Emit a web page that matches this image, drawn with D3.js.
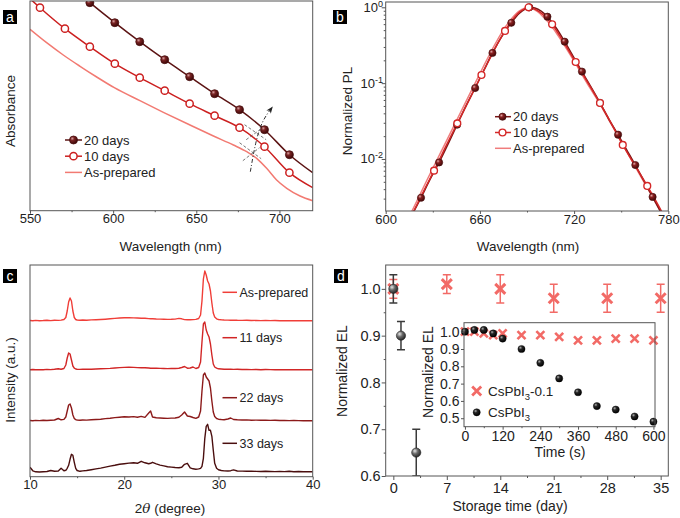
<!DOCTYPE html>
<html><head><meta charset="utf-8">
<script src="https://cdn.jsdelivr.net/npm/d3@7"></script>
<style>
body{margin:0;background:#fff}
svg{display:block;font-family:"Liberation Sans",Arial,sans-serif}
</style></head><body><svg id="c" width="680" height="518"></svg>
<script>
// ---------- Panel a: absorbance ----------
const aWave20 = [571, 586, 601, 616, 631, 646, 661, 676, 691, 706, 720];
const aAbs20  = [2.29, 2.08, 1.88, 1.69, 1.51, 1.34, 1.17, 1.01, 0.81, 0.56, 0.38];
const aMark20 = [586, 601, 616, 631, 646, 661, 676, 691, 706];
const aWave10 = [550, 556, 571, 586, 601, 616, 631, 646, 661, 676, 691, 706, 720];
const aAbs10  = [2.12, 2.03, 1.82, 1.64, 1.47, 1.33, 1.20, 1.07, 0.95, 0.83, 0.64, 0.38, 0.23];
const aMark10 = [556, 571, 586, 601, 616, 631, 646, 661, 676, 691, 706];
const aWaveAP = [550, 560, 570, 580.1, 590.1, 600.7, 616.1, 630.2, 646.2, 660.3, 672.3, 680.3, 686.3, 692.3, 698.3, 704.4, 712.4, 720];
const aAbsAP  = [1.814, 1.680, 1.557, 1.444, 1.337, 1.230, 1.100, 0.984, 0.857, 0.747, 0.657, 0.590, 0.524, 0.424, 0.307, 0.224, 0.147, 0.100];
const aArrow  = [[682.5, 0.39], [685.5, 0.68], [689.5, 0.90], [695.5, 1.03]];
const aTangents = [[[679, 0.86], [692, 0.71]], [[680, 0.71], [690, 0.83]],
                   [[676, 0.68], [689, 0.52]], [[678, 0.50], [688, 0.63]]];
const aTicks = [550, 600, 650, 700], aMinor = [575, 625, 675];

// ---------- Panel b: normalized PL (log) ----------
const bWave20 = [612, 617, 622.5, 628, 634, 640, 645.5, 651, 657, 662.5, 668, 674, 680, 685, 689, 691.5, 695, 699, 703, 708.5, 714, 719.5, 725, 731, 736.5, 742, 748, 753.5, 759, 764.5, 770, 776, 780];
const bPL20   = [0.00112, 0.00186, 0.00308, 0.00525, 0.0090, 0.0162, 0.0283, 0.0493, 0.0862, 0.147, 0.250, 0.415, 0.625, 0.830, 0.955, 1.0, 0.977, 0.891, 0.752, 0.537, 0.352, 0.224, 0.142, 0.0871, 0.0550, 0.0339, 0.0209, 0.0132, 0.00832, 0.00513, 0.00316, 0.00186, 0.00132];
const bMark20 = [622.5, 634, 645.5, 657, 668, 680, 691.5, 703, 714, 725, 736.5, 748, 759, 770];
const bWave10 = [610, 615.5, 620, 625.5, 630.8, 636, 640.5, 645.6, 651, 656, 661, 666, 671, 676, 680.5, 684, 688, 691, 694, 698, 702, 706, 711, 716, 721, 726, 731, 736.5, 741, 746, 751, 756, 761, 766.6, 772, 778];
const bPL10   = [0.000955, 0.00162, 0.00251, 0.00427, 0.00701, 0.0117, 0.0182, 0.0295, 0.0490, 0.0794, 0.128, 0.204, 0.324, 0.488, 0.676, 0.822, 0.944, 1.0, 0.966, 0.871, 0.741, 0.597, 0.417, 0.282, 0.190, 0.127, 0.0851, 0.0547, 0.0372, 0.0240, 0.0153, 0.0102, 0.00692, 0.00441, 0.00282, 0.00166];
const bMark10 = [630.8, 645.6, 661, 676, 691, 706, 721, 736.5, 751, 766.6];
const bWaveAP = [608, 614, 620, 626, 632, 638, 644, 650, 656, 662, 668, 674, 679, 683, 687, 690, 693, 697, 701, 705, 710, 715, 720, 725, 730, 736, 742, 748, 754, 760, 766, 772, 778];
const bPLAP   = [0.000891, 0.00158, 0.00282, 0.00513, 0.00912, 0.0162, 0.0288, 0.0513, 0.0912, 0.162, 0.282, 0.468, 0.661, 0.822, 0.944, 1.0, 0.973, 0.871, 0.724, 0.589, 0.417, 0.288, 0.195, 0.130, 0.0871, 0.0550, 0.0331, 0.0200, 0.0120, 0.00724, 0.00437, 0.00263, 0.00158];
const bTicks = [600, 660, 720, 780], bMinor = [630, 690, 750];
const bYTicks = [1, 0.1, 0.01], bYExp = ["0", "-1", "-2"];

// ---------- Panel c: XRD ----------
const c2theta = [10, 10.3, 10.6, 11, 11.4, 11.8, 12.2, 12.6, 13, 13.3, 13.6, 13.8, 13.95, 14.1, 14.25, 14.4, 14.55, 14.7, 14.85, 15, 15.3, 15.6, 16, 16.5, 17, 17.5, 18, 18.5, 19, 19.5, 20, 20.5, 21, 21.4, 21.8, 22.2, 22.6, 22.8, 23, 23.4, 23.8, 24.2, 24.6, 25, 25.4, 25.8, 26.1, 26.4, 26.7, 27, 27.3, 27.6, 27.9, 28.1, 28.25, 28.4, 28.55, 28.7, 28.85, 29, 29.15, 29.3, 29.45, 29.6, 29.8, 30, 30.3, 30.6, 31, 31.3, 31.6, 32, 32.5, 33, 33.5, 34, 34.5, 35, 35.5, 36, 36.5, 37, 37.5, 38, 38.5, 39, 39.5, 40];
const cAsPrepared = [0.5,0.2,0.6,0.3,0.5,0.8,0.4,0.7,0.6,0.9, 1.5,3.5,10,19,23,20,10,3.5,1.5,1.0, 0.8,1.0,0.7,1.1,1.3,1.5,1.8,2.2,2.6,3.0, 3.3,3.4,3.1,3.0,2.8,2.7,2.4,2.3,2.2,2.0, 1.9,1.8,1.6,1.7,1.9,2.6,2.2,1.4,1.2,1.3, 1.4,1.6,2.5,6,20,42,50,46,40,37, 30,18,8,4,2.2,1.5,1.2,1.0,0.9,0.8, 0.9,0.7,0.6,0.7,0.5,0.6,0.4,0.5,0.4,0.5, 0.3,0.4,0.3,0.4,0.2,0.3,0.2,0.3];
const c11days = [0.3,0.5,0.2,0.4,0.3,0.6,0.4,0.7,1.2,0.8, 1.5,5,12,17,16,10,4,1.8,1.0,0.8, 0.6,0.9,0.7,0.8,1.0,1.2,1.4,1.6,2.0,2.4, 2.6,2.8,2.6,2.4,2.2,2.3,2.0,1.8,1.7,1.9, 1.6,1.5,1.4,1.6,1.5,1.8,2.5,3.5,1.8,2.0, 3.0,1.5,2.5,8,28,46,48,40,36,33, 26,15,6,3,1.8,1.2,1.0,0.8,0.7,0.9, 0.6,0.7,0.5,0.6,0.4,0.5,0.3,0.5,0.4,0.3, 0.4,0.3,0.2,0.3,0.2,0.3,0.2,0.2];
const c22days = [0.5,0.3,0.6,0.4,0.7,0.5,0.8,1.0,2.5,1.2, 1.6,4,10,16,17,13,6,2.5,1.4,1.0, 0.8,1.0,0.9,1.2,1.5,1.8,2.4,2.8,3.4,3.8, 4.2,4.0,4.4,3.8,4.6,3.6,8,10,4,3.2, 3.0,2.8,2.6,2.9,3.0,3.8,6,9,5,4.5, 3.5,2.6,4,10,30,46,48,44,42,40, 33,20,9,4.5,2.5,1.8,1.5,1.3,2.0,3.0, 1.5,1.2,1.0,1.1,0.8,0.9,0.7,0.8,0.6,0.7, 0.5,0.6,0.4,0.5,0.4,0.3,0.3,0.2];
const c33days = [5,1.5,0.5,0.3,0.6,0.8,1.8,1.0,1.2,4, 1.5,2,4,7,13,18,17,10,4,1.8, 1.0,1.4,1.8,2.6,3.4,4.2,5.2,6.2,7.0,8.0, 8.6,9.2,9.5,9.0,11,9.5,8.6,9.0,10,8.5, 7.2,6.4,5.6,5.2,4.8,4.5,5,8,9,4.5, 3.5,3.0,3.4,4,6,14,34,46,48,42, 42,36,22,9,4,2.5,1.8,1.4,1.3,1.6, 2.4,1.3,1.2,1.0,1.1,0.9,0.8,1.0,0.8,0.7, 0.9,0.7,1.0,0.6,0.8,0.5,0.6,0.5];
const cNames = ["As-prepared", "11 days", "22 days", "33 days"];
const cOffsets = [155.7, 106.7, 55.7, 4.4];
const cTicks = [10, 20, 30, 40], cMinor = [15, 25, 35];

// ---------- Panel d: EL stability ----------
const dDays01 = [0, 7, 14, 21, 28, 35];
const dEL01   = [1.00, 1.01, 1.00, 0.98, 0.98, 0.98];
const dErr01  = [0.02, 0.02, 0.03, 0.03, 0.03, 0.03];
const dDays   = [0, 1, 3];
const dEL     = [1.00, 0.90, 0.65];
const dErr    = [0.03, 0.03, 0.05];
const dXTicks = [0, 7, 14, 21, 28, 35], dXMinor = [3.5, 10.5, 17.5, 24.5, 31.5];
const dYTicks = [0.6, 0.7, 0.8, 0.9, 1.0], dYMinor = [0.65, 0.75, 0.85, 0.95];
const iTime   = [0, 30, 60, 90, 120, 180, 240, 300, 360, 420, 480, 540, 600];
const iEL01   = [1.00, 1.00, 0.99, 0.98, 0.99, 0.98, 0.98, 0.97, 0.95, 0.95, 0.96, 0.96, 0.95];
const iEL     = [1.00, 1.01, 1.01, 0.99, 0.96, 0.90, 0.82, 0.73, 0.65, 0.57, 0.55, 0.51, 0.48];
const iXTicks = [0, 120, 240, 360, 480, 600], iXMinor = [60, 180, 300, 420, 540];
const iYTicks = [0.5, 0.6, 0.7, 0.8, 0.9, 1.0];

// ================= drawing =================
const svg = d3.select("#c");
const AX = "#555", TXT = "#222";
const defs = svg.append("defs");
function sphere(id, stops) {
  const g = defs.append("radialGradient").attr("id", id).attr("cx", "35%").attr("cy", "32%").attr("r", "70%");
  stops.forEach(s => g.append("stop").attr("offset", s[0]).attr("stop-color", s[1]));
}
sphere("gDark", [[0, "#d9a0a0"], [0.35, "#7a2424"], [1, "#3a0606"]]);
sphere("gDarkB", [[0, "#e0a8a8"], [0.35, "#8a2020"], [1, "#420808"]]);
sphere("gGray", [[0, "#e6e6e6"], [0.45, "#6a6a6a"], [1, "#262626"]]);
sphere("gBlack", [[0, "#b0b0b0"], [0.35, "#262626"], [1, "#000"]]);

function clip(id, x0, y0, x1, y1) {
  defs.append("clipPath").attr("id", id).append("rect")
    .attr("x", x0).attr("y", y0).attr("width", x1 - x0).attr("height", y1 - y0);
}
function frame(x0, y0, x1, y1) {
  svg.append("rect").attr("x", x0).attr("y", y0).attr("width", x1 - x0).attr("height", y1 - y0)
    .attr("fill", "none").attr("stroke", AX).attr("stroke-width", 1);
}
function styleAxis(g, fs) {
  g.select(".domain").remove();
  g.selectAll("line").attr("stroke", AX);
  g.selectAll("text").attr("fill", TXT).style("font-size", fs + "px").attr("font-family", null);
}
function xAxis(scale, y, majors, minors, fmt, fs, tick, pad) {
  const g = svg.append("g").attr("transform", `translate(0,${y})`)
    .call(d3.axisBottom(scale).tickValues(majors).tickSize(tick).tickSizeOuter(0).tickPadding(pad).tickFormat(fmt));
  styleAxis(g, fs);
  const m = svg.append("g").attr("transform", `translate(0,${y})`)
    .call(d3.axisBottom(scale).tickValues(minors).tickSize(tick / 2).tickSizeOuter(0).tickFormat(""));
  styleAxis(m, fs);
}
function yAxis(scale, x, majors, minors, fmt, fs, tick, pad) {
  const g = svg.append("g").attr("transform", `translate(${x},0)`)
    .call(d3.axisLeft(scale).tickValues(majors).tickSize(tick).tickSizeOuter(0).tickPadding(pad).tickFormat(fmt));
  styleAxis(g, fs);
  if (minors) {
    const m = svg.append("g").attr("transform", `translate(${x},0)`)
      .call(d3.axisLeft(scale).tickValues(minors).tickSize(tick / 2).tickSizeOuter(0).tickFormat(""));
    styleAxis(m, fs);
  }
}
function panelLabel(x, y, t) {
  svg.append("rect").attr("x", x).attr("y", y).attr("width", 14).attr("height", 14).attr("fill", "#000");
  svg.append("text").attr("x", x + 7).attr("y", y + 12).attr("text-anchor", "middle")
    .attr("fill", "#fff").style("font-size", "14px").text(t);
}
function ytitle(x, y, t, fs) {
  svg.append("text").attr("transform", `translate(${x},${y}) rotate(-90)`).attr("text-anchor", "middle")
    .attr("fill", TXT).style("font-size", fs + "px").text(t);
}
function xtitle(x, y, t, fs) {
  return svg.append("text").attr("x", x).attr("y", y).attr("text-anchor", "middle")
    .attr("fill", TXT).style("font-size", fs + "px").text(t);
}
const zip = (xs, ys) => xs.map((x, i) => [x, ys[i]]);

// ---------- Panel a ----------
{
  const x = d3.scaleLinear([550, 720], [30, 312.7]);
  const y = d3.scaleLinear([0, 2.097], [210.7, 1]);
  clip("clipA", 30, 1, 312.7, 210.7);
  const line = d3.line().x(d => x(d[0])).y(d => y(d[1])).curve(d3.curveMonotoneX);
  const g = svg.append("g").attr("clip-path", "url(#clipA)");
  const sAP = "#f27a72", s10 = "#cc2020", s20 = "#5c1414";
  g.append("path").attr("d", line(zip(aWaveAP, aAbsAP))).attr("fill", "none").attr("stroke", sAP).attr("stroke-width", 1.5);
  g.append("path").attr("d", line(zip(aWave10, aAbs10))).attr("fill", "none").attr("stroke", s10).attr("stroke-width", 1.5);
  g.append("path").attr("d", line(zip(aWave20, aAbs20))).attr("fill", "none").attr("stroke", s20).attr("stroke-width", 1.5);
  g.selectAll(".m10").data(zip(aWave10, aAbs10).filter(d => aMark10.includes(d[0]))).join("circle")
    .attr("cx", d => x(d[0])).attr("cy", d => y(d[1])).attr("r", 3.6)
    .attr("fill", "#fff").attr("stroke", s10).attr("stroke-width", 1.5);
  g.selectAll(".m20").data(zip(aWave20, aAbs20).filter(d => aMark20.includes(d[0]))).join("circle")
    .attr("cx", d => x(d[0])).attr("cy", d => y(d[1])).attr("r", 4)
    .attr("fill", "url(#gDark)").attr("stroke", "#4a0e0e").attr("stroke-width", 0.8);
  // annotation
  const aline = d3.line().x(d => x(d[0])).y(d => y(d[1]));
  defs.append("marker").attr("id", "arrowA").attr("viewBox", "0 0 10 10").attr("refX", 8).attr("refY", 5)
    .attr("markerWidth", 7).attr("markerHeight", 7).attr("orient", "auto")
    .append("path").attr("d", "M0,1 L10,5 L0,9 L3,5 Z").attr("fill", "#222");
  svg.append("path").attr("d", d3.line().x(d => x(d[0])).y(d => y(d[1])).curve(d3.curveBasis)(aArrow))
    .attr("fill", "none").attr("stroke", "#333").attr("stroke-width", 1).attr("stroke-dasharray", "4,2,1,2")
    .attr("marker-end", "url(#arrowA)");
  aTangents.forEach(t => svg.append("path").attr("d", aline(t)).attr("fill", "none")
    .attr("stroke", "#555").attr("stroke-width", 0.8).attr("stroke-dasharray", "3,2"));
  frame(30, 1, 312.7, 210.7);
  xAxis(x, 210.7, aTicks, aMinor, d3.format("d"), 13, 3, 0.5);
  ytitle(15, 111, "Absorbance", 13.5);
  xtitle(170.7, 251, "Wavelength (nm)", 13.5);
  // legend
  const leg = [["20 days", s20, "f"], ["10 days", s10, "o"], ["As-prepared", sAP, ""]];
  leg.forEach((L, i) => {
    const yy = 140 + i * 16.2;
    svg.append("line").attr("x1", 65).attr("x2", 82).attr("y1", yy).attr("y2", yy).attr("stroke", L[1]).attr("stroke-width", 1.5);
    if (L[2] === "f") svg.append("circle").attr("cx", 73.5).attr("cy", yy).attr("r", 4).attr("fill", "url(#gDark)").attr("stroke", "#4a0e0e").attr("stroke-width", 0.8);
    if (L[2] === "o") svg.append("circle").attr("cx", 73.5).attr("cy", yy).attr("r", 3.6).attr("fill", "#fff").attr("stroke", L[1]).attr("stroke-width", 1.5);
    svg.append("text").attr("x", 84).attr("y", yy + 4.6).attr("fill", TXT).style("font-size", "13px").text(L[0]);
  });
  panelLabel(3, 10, "a");
}

// ---------- Panel b ----------
{
  const x = d3.scaleLinear([600, 780], [385.7, 668.3]);
  const y = d3.scaleLog([0.00206, 1.175], [211, 2]);
  clip("clipB", 385.7, 2, 668.3, 211);
  const line = d3.line().x(d => x(d[0])).y(d => y(d[1])).curve(d3.curveMonotoneX);
  const g = svg.append("g").attr("clip-path", "url(#clipB)");
  const sAP = "#f07c7c", s10 = "#d42828", s20 = "#7a1616";
  g.append("path").attr("d", line(zip(bWaveAP, bPLAP))).attr("fill", "none").attr("stroke", sAP).attr("stroke-width", 1.5);
  g.append("path").attr("d", line(zip(bWave20, bPL20))).attr("fill", "none").attr("stroke", s20).attr("stroke-width", 1.5);
  g.append("path").attr("d", line(zip(bWave10, bPL10))).attr("fill", "none").attr("stroke", s10).attr("stroke-width", 1.5);
  g.selectAll(".m20").data(zip(bWave20, bPL20).filter(d => bMark20.includes(d[0]))).join("circle")
    .attr("cx", d => x(d[0])).attr("cy", d => y(d[1])).attr("r", 3.6)
    .attr("fill", "url(#gDarkB)").attr("stroke", "#4a0e0e").attr("stroke-width", 0.7);
  g.selectAll(".m10").data(zip(bWave10, bPL10).filter(d => bMark10.includes(d[0]))).join("circle")
    .attr("cx", d => x(d[0])).attr("cy", d => y(d[1])).attr("r", 3.4)
    .attr("fill", "#fff").attr("stroke", s10).attr("stroke-width", 1.4);
  frame(385.7, 2, 668.3, 211);
  xAxis(x, 211, bTicks, bMinor, d3.format("d"), 13, 3, 0.5);
  const minors = [];
  [-3, -2, -1, 0].forEach(e => { for (let k = 2; k <= 9; k++) { const v = k * Math.pow(10, e); if (v > 0.00206 && v < 1.175) minors.push(v); } });
  yAxis(y, 385.7, bYTicks, minors, () => "", 13, 4, 1);
  bYTicks.forEach((v, i) => {
    const t = svg.append("text").attr("x", 383).attr("y", y(v) + 4.5).attr("text-anchor", "end")
      .attr("fill", TXT).style("font-size", "13px").text("10");
    t.append("tspan").attr("dy", -5).style("font-size", "9px").text(bYExp[i]);
  });
  ytitle(352, 111, "Normalized PL", 13.5);
  xtitle(528, 251, "Wavelength (nm)", 13.5);
  const leg = [["20 days", s20, "f"], ["10 days", s10, "o"], ["As-prepared", sAP, ""]];
  leg.forEach((L, i) => {
    const yy = 116.7 + i * 15.8;
    svg.append("line").attr("x1", 495).attr("x2", 511).attr("y1", yy).attr("y2", yy).attr("stroke", L[1]).attr("stroke-width", 1.5);
    if (L[2] === "f") svg.append("circle").attr("cx", 502.5).attr("cy", yy).attr("r", 3.6).attr("fill", "url(#gDarkB)").attr("stroke", "#4a0e0e").attr("stroke-width", 0.7);
    if (L[2] === "o") svg.append("circle").attr("cx", 502.5).attr("cy", yy).attr("r", 3.4).attr("fill", "#fff").attr("stroke", L[1]).attr("stroke-width", 1.4);
    svg.append("text").attr("x", 513).attr("y", yy + 4.6).attr("fill", TXT).style("font-size", "13px").text(L[0]);
  });
  panelLabel(333, 10, "b");
}

// ---------- Panel c ----------
{
  const x = d3.scaleLinear([10, 40], [30, 312.7]);
  const y = d3.scaleLinear([0, 211.7], [476.7, 265]);
  clip("clipC", 30, 265, 312.7, 476.7);
  const g = svg.append("g").attr("clip-path", "url(#clipC)");
  const cols = ["#f03e38", "#d22626", "#8c1a1a", "#4a0e0e"];
  const series = [cAsPrepared, c11days, c22days, c33days];
  series.forEach((s, k) => {
    const line = d3.line().x((d, i) => x(c2theta[i])).y(d => y(d + cOffsets[k])).curve(d3.curveLinear);
    g.append("path").attr("d", line(s)).attr("fill", "none").attr("stroke", cols[k]).attr("stroke-width", 1.4).attr("stroke-linejoin", "round");
  });
  const legY = [292.3, 337.7, 397.7, 443.3];
  cNames.forEach((n, k) => {
    svg.append("line").attr("x1", 222.5).attr("x2", 237).attr("y1", legY[k]).attr("y2", legY[k]).attr("stroke", cols[k]).attr("stroke-width", 1.5);
    svg.append("text").attr("x", 239.5).attr("y", legY[k] + 4.4).attr("fill", TXT).style("font-size", "12.5px").text(n);
  });
  frame(30, 265, 312.7, 476.7);
  xAxis(x, 476.7, cTicks, cMinor, d3.format("d"), 13, 3, 0.5);
  ytitle(15, 380, "Intensity (a.u.)", 13.5);
  const t = xtitle(170, 513, "", 13.5);
  t.append("tspan").text("2");
  t.append("tspan").style("font-style", "italic").attr("font-family", "'DejaVu Serif', serif").text("θ");
  t.append("tspan").text(" (degree)");
  panelLabel(3, 269, "c");
}

// ---------- Panel d ----------
{
  const x = d3.scaleLinear([-1, 36], [385.7, 668.3]);
  const y = d3.scaleLinear([0.6, 1.051], [476, 265]);
  clip("clipD", 385.7, 265, 668.3, 476);
  const g = svg.append("g").attr("clip-path", "url(#clipD)");
  const sal = "#f26a66";
  const cross = h => `M${-h},${-h}L${h},${h}M${-h},${h}L${h},${-h}`;
  dDays01.forEach((d, i) => {
    const cx = x(d);
    g.append("line").attr("x1", cx).attr("x2", cx).attr("y1", y(dEL01[i] - dErr01[i])).attr("y2", y(dEL01[i] + dErr01[i])).attr("stroke", sal).attr("stroke-width", 1.5);
    [dEL01[i] - dErr01[i], dEL01[i] + dErr01[i]].forEach(v => g.append("line").attr("x1", cx - 4).attr("x2", cx + 4).attr("y1", y(v)).attr("y2", y(v)).attr("stroke", sal).attr("stroke-width", 1.5));
    g.append("path").attr("d", cross(5)).attr("transform", `translate(${cx},${y(dEL01[i])})`).attr("stroke", sal).attr("stroke-width", 3).attr("fill", "none");
  });
  dDays.forEach((d, i) => {
    const cx = x(d);
    g.append("line").attr("x1", cx).attr("x2", cx).attr("y1", y(dEL[i] - dErr[i])).attr("y2", y(dEL[i] + dErr[i])).attr("stroke", "#3a3a3a").attr("stroke-width", 1.5);
    [dEL[i] - dErr[i], dEL[i] + dErr[i]].forEach(v => g.append("line").attr("x1", cx - 4).attr("x2", cx + 4).attr("y1", y(v)).attr("y2", y(v)).attr("stroke", "#3a3a3a").attr("stroke-width", 1.5));
    g.append("circle").attr("cx", cx).attr("cy", y(dEL[i])).attr("r", 4.6).attr("fill", "url(#gGray)").attr("stroke", "#222").attr("stroke-width", 0.6);
  });
  frame(385.7, 265, 668.3, 476);
  xAxis(x, 476, dXTicks, dXMinor, d3.format("d"), 14.5, 4, 3);
  yAxis(y, 385.7, dYTicks, dYMinor, d3.format(".1f"), 14.5, 4, 1);
  ytitle(347, 371, "Normalized EL", 14);
  xtitle(510, 510.5, "Storage time (day)", 14);

  // inset
  const xi = d3.scaleLinear([-3, 605], [464, 655]);
  const yi = d3.scaleLinear([0.451, 1.052], [426.7, 322.7]);
  svg.append("rect").attr("x", 464).attr("y", 322.7).attr("width", 191).attr("height", 104).attr("fill", "#fff");
  iTime.forEach((t, i) => svg.append("path").attr("d", cross(4)).attr("transform", `translate(${xi(t)},${yi(iEL01[i])})`)
    .attr("stroke", sal).attr("stroke-width", 2.6).attr("fill", "none"));
  iTime.forEach((t, i) => svg.append("circle").attr("cx", xi(t)).attr("cy", yi(iEL[i])).attr("r", 3.6)
    .attr("fill", "url(#gBlack)").attr("stroke", "#000").attr("stroke-width", 0.4));
  frame(464, 322.7, 655, 426.7);
  xAxis(xi, 426.7, iXTicks, iXMinor, d3.format("d"), 14, 3, 1.5);
  yAxis(yi, 464, iYTicks, [], d3.format(".1f"), 14, 3, 1.5);
  ytitle(433, 372, "Normalized EL", 14);
  xtitle(560, 457, "Time (s)", 14);
  // inset legend
  svg.append("path").attr("d", cross(4.5)).attr("transform", "translate(476.7,391)").attr("stroke", sal).attr("stroke-width", 2.8).attr("fill", "none");
  const t1 = svg.append("text").attr("x", 488).attr("y", 396).attr("fill", TXT).style("font-size", "13.5px");
  t1.append("tspan").text("CsPbI");
  t1.append("tspan").attr("dy", 4).style("font-size", "9.5px").text("3");
  t1.append("tspan").attr("dy", -4).text("-0.1");
  svg.append("circle").attr("cx", 476.7).attr("cy", 412.3).attr("r", 3.6).attr("fill", "url(#gBlack)").attr("stroke", "#000").attr("stroke-width", 0.4);
  const t2 = svg.append("text").attr("x", 488).attr("y", 417.3).attr("fill", TXT).style("font-size", "13.5px");
  t2.append("tspan").text("CsPbI");
  t2.append("tspan").attr("dy", 4).style("font-size", "9.5px").text("3");
  panelLabel(334, 269, "d");
}
</script></body></html>
